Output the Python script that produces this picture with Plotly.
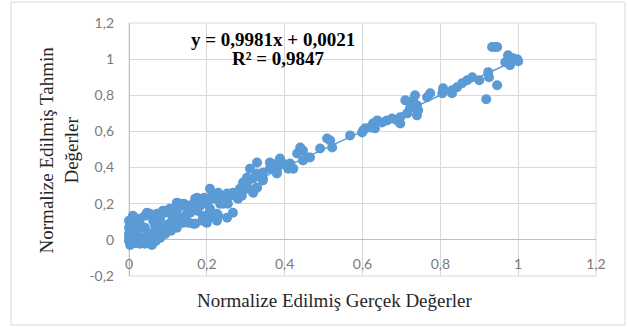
import plotly.graph_objects as go

x_vals = [
    0.933, 0.946, 0.941, 0.974, 0.997, 1.000, 0.979, 0.967, 0.985, 0.923,
    0.925, 0.946, 0.918, 0.900, 0.882, 0.869, 0.856, 0.843, 0.830, 0.830,
    0.807, 0.805, 0.774, 0.766, 0.735, 0.730, 0.740, 0.710, 0.743, 0.722,
    0.740, 0.715, 0.697, 0.689, 0.697, 0.676, 0.663, 0.650, 0.638, 0.627,
    0.620, 0.632, 0.602, 0.607, 0.599, 0.568, 0.517, 0.509, 0.522, 0.491,
    0.465, 0.447, 0.458, 0.440, 0.432, 0.447, 0.414, 0.422, 0.409, 0.396,
    0.388, 0.380, 0.383, 0.362, 0.362, 0.344, 0.329, 0.311, 0.329, 0.344,
    0.319, 0.319, 0.324, 0.303, 0.303, 0.293, 0.285, 0.290, 0.267, 0.267,
    0.252, 0.242, 0.229, 0.208, 0.216, 0.200, 0.234, 0.208, 0.190, 0.229,
    0.254, 0.280, 0.260, 0.226, 0.252, 0.200, 0.208, 0.213, 0.193, 0.170,
    0.175, 0.165, 0.141, 0.149, 0.131, 0.123, 0.123, 0.105, 0.093, 0.087,
    0.111, 0.131, 0.154, 0.170, 0.188, 0.206, 0.123, 0.072, 0.054, 0.062,
    0.046, 0.041, 0.026, 0.008, 0.000, 0.000, 0.000, 0.015, 0.041, 0.021,
    0.051, 0.077, 0.093, 0.067, 0.033, 0.103, 0.041, 0.021, 0.010, 0.000,
    0.008, 0.023, 0.046, 0.072, 0.098, 0.139, 0.093, 0.165, 0.200, 0.226,
    0.242, 0.272, 0.303, 0.329, 0.344, 0.380, 0.005, 0.015, 0.028, 0.036,
    0.054, 0.062, 0.080, 0.085, 0.000, 0.010, 0.028, 0.059, 0.003, 0.069,
    0.108, 0.139, 0.118, 0.080, 0.157, 0.175, 0.183, 0.147,
]
y_vals = [
    1.067, 1.067, 1.067, 1.022, 1.000, 0.989, 0.967, 0.983, 1.006, 0.928,
    0.900, 0.856, 0.778, 0.883, 0.900, 0.883, 0.867, 0.844, 0.828, 0.811,
    0.839, 0.811, 0.811, 0.789, 0.800, 0.772, 0.744, 0.772, 0.717, 0.728,
    0.689, 0.700, 0.678, 0.661, 0.644, 0.672, 0.661, 0.650, 0.661, 0.644,
    0.622, 0.617, 0.606, 0.617, 0.594, 0.578, 0.550, 0.561, 0.511, 0.506,
    0.456, 0.494, 0.456, 0.511, 0.478, 0.439, 0.422, 0.394, 0.394, 0.422,
    0.450, 0.383, 0.428, 0.428, 0.394, 0.372, 0.428, 0.394, 0.367, 0.339,
    0.339, 0.261, 0.283, 0.344, 0.317, 0.317, 0.283, 0.244, 0.261, 0.150,
    0.256, 0.228, 0.261, 0.283, 0.228, 0.200, 0.200, 0.150, 0.133, 0.133,
    0.200, 0.228, 0.244, 0.106, 0.122, 0.122, 0.172, 0.244, 0.233, 0.228,
    0.233, 0.200, 0.200, 0.189, 0.200, 0.206, 0.161, 0.172, 0.161, 0.161,
    0.133, 0.122, 0.094, 0.089, 0.106, 0.122, 0.067, 0.144, 0.144, 0.106,
    0.150, 0.133, 0.117, 0.094, 0.067, 0.033, -0.006, -0.017, -0.022, 0.022,
    0.033, 0.050, 0.033, 0.078, 0.067, 0.089, 0.067, 0.061, 0.033, 0.011,
    -0.006, -0.006, -0.017, 0.022, 0.061, 0.189, 0.150, 0.089, 0.094, 0.144,
    0.200, 0.256, 0.283, 0.289, 0.328, 0.367, 0.050, 0.072, 0.089, 0.011,
    0.006, 0.039, 0.011, 0.072, 0.106, 0.133, -0.022, -0.028, -0.028, -0.006,
    0.050, 0.094, 0.106, 0.111, 0.150, 0.161, 0.189, 0.139,
]

# Trendline coefficients shown in the chart
slope = 0.9981
intercept = 0.0021
trend_x = [min(x_vals), max(x_vals)]
trend_y = [slope * v + intercept for v in trend_x]

tick_vals = [-0.2, 0, 0.2, 0.4, 0.6, 0.8, 1, 1.2]
tick_text = ["-0,2", "0", "0,2", "0,4", "0,6", "0,8", "1", "1,2"]
x_tick_vals = [0, 0.2, 0.4, 0.6, 0.8, 1, 1.2]
x_tick_text = ["0", "0,2", "0,4", "0,6", "0,8", "1", "1,2"]

blue = "#5B9BD5"
grid = "#d9d9d9"
tick_font = dict(family="Lato", size=14, color="#7a7a7a")
serif = "Liberation Serif"

fig = go.Figure()
fig.add_trace(go.Scatter(
    x=x_vals, y=y_vals, mode="markers",
    marker=dict(color=blue, size=10, line=dict(width=0)),
    cliponaxis=False, showlegend=False, hoverinfo="skip",
))
fig.add_trace(go.Scatter(
    x=trend_x, y=trend_y, mode="lines",
    line=dict(color=blue, width=1.5),
    cliponaxis=False, showlegend=False, hoverinfo="skip",
))

fig.update_layout(
    width=628, height=327,
    margin=dict(l=129, r=32, t=23, b=51, pad=0),
    paper_bgcolor="white", plot_bgcolor="white",
    xaxis=dict(
        range=[0, 1.2], tickvals=x_tick_vals, ticktext=x_tick_text,
        showgrid=True, gridcolor=grid, gridwidth=1,
        zeroline=True, zerolinecolor="#bfbfbf", zerolinewidth=1,
        showline=False, ticks="", tickfont=tick_font,
        anchor="free", position=0.146, ticklabelstandoff=15,
        fixedrange=True,
    ),
    yaxis=dict(
        range=[-0.2, 1.2], tickvals=tick_vals, ticktext=tick_text,
        showgrid=True, gridcolor=grid, gridwidth=1,
        zeroline=True, zerolinecolor="#bfbfbf", zerolinewidth=1,
        showline=False, ticks="", tickfont=tick_font,
        ticklabelstandoff=14, fixedrange=True,
    ),
    shapes=[
        dict(type="rect", xref="paper", yref="paper", x0=0, x1=1, y0=0, y1=1,
             line=dict(color=grid, width=1), layer="below"),
        dict(type="rect", xref="paper", yref="paper",
             x0=-0.2527, x1=1.062, y0=-0.1937, y1=1.083,
             line=dict(color=grid, width=1), layer="below"),
    ],
    annotations=[
        dict(text="Normalize Edilmiş Gerçek Değerler", xref="paper", yref="paper",
             x=0.441, y=-0.095, showarrow=False, xanchor="center", yanchor="middle",
             font=dict(family=serif, size=19, color="#262626")),
        dict(text="Normalize Edilmiş Tahmin<br>Değerler", xref="paper", yref="paper",
             x=-0.15, y=0.5, showarrow=False, textangle=-90,
             xanchor="center", yanchor="middle",
             font=dict(family=serif, size=19, color="#262626")),
        dict(text="<b>y = 0,9981x + 0,0021</b>",
             xref="paper", yref="paper", x=0.309, y=0.933, showarrow=False,
             xanchor="center", yanchor="middle",
             font=dict(family=serif, size=19, color="#000000")),
        dict(text="<b>R² = 0,9847</b>",
             xref="paper", yref="paper", x=0.318, y=0.858, showarrow=False,
             xanchor="center", yanchor="middle",
             font=dict(family=serif, size=19, color="#000000")),
    ],
)

fig.write_html("out.html")
